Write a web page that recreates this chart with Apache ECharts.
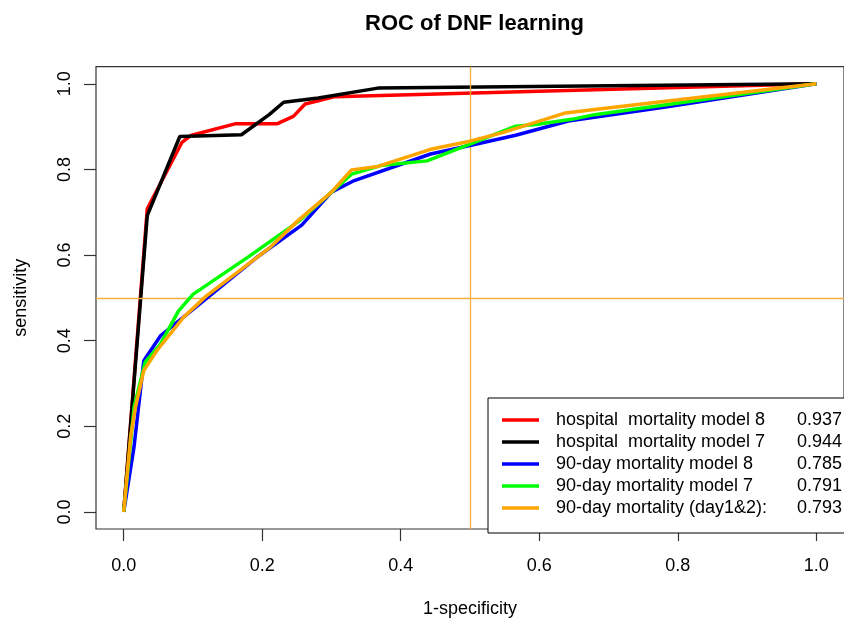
<!DOCTYPE html>
<html>
<head>
<meta charset="utf-8">
<script src="https://cdn.jsdelivr.net/npm/echarts@6/dist/echarts.min.js"></script>
<style>
html,body{margin:0;padding:0;background:#fff;}
#chart{width:844px;height:623px;}
</style>
</head>
<body>
<div id="chart"></div>
<script>
// ---- data ----
const seriesNames = [
  'hospital  mortality model 8',
  'hospital  mortality model 7',
  '90-day mortality model 8',
  '90-day mortality model 7',
  '90-day mortality (day1&2):'
];
const aucValues = ['0.937', '0.944', '0.785', '0.791', '0.793'];
const seriesColors = ['#FF0000', '#000000', '#0000FF', '#00FF00', '#FFA500'];

const hosp8X = [0, 0.034, 0.084, 0.098, 0.162, 0.222, 0.245, 0.262, 0.305, 0.68, 1];
const hosp8Y = [0, 0.708, 0.863, 0.880, 0.907, 0.907, 0.924, 0.953, 0.970, 0.986, 1];

const hosp7X = [0, 0.034, 0.081, 0.170, 0.210, 0.231, 0.281, 0.367, 1];
const hosp7Y = [0, 0.692, 0.877, 0.881, 0.928, 0.957, 0.967, 0.990, 1];

const d90m8X = [0, 0.015, 0.029, 0.053, 0.191, 0.257, 0.300, 0.333, 0.443, 0.500, 0.566, 0.642, 0.780, 1];
const d90m8Y = [0, 0.153, 0.353, 0.411, 0.593, 0.670, 0.747, 0.774, 0.836, 0.856, 0.880, 0.913, 0.945, 1];

const d90m7X = [0, 0.015, 0.031, 0.053, 0.079, 0.100, 0.181, 0.252, 0.300, 0.329, 0.371, 0.438, 0.500, 0.566, 0.595, 0.647, 0.680, 1];
const d90m7Y = [0, 0.245, 0.350, 0.392, 0.469, 0.508, 0.597, 0.678, 0.747, 0.789, 0.809, 0.820, 0.859, 0.901, 0.905, 0.917, 0.928, 1];

const d90dX = [0, 0.010, 0.017, 0.029, 0.048, 0.086, 0.119, 0.210, 0.252, 0.300, 0.329, 0.367, 0.443, 0.500, 0.547, 0.638, 0.680, 1];
const d90dY = [0, 0.176, 0.245, 0.330, 0.377, 0.454, 0.504, 0.616, 0.681, 0.747, 0.799, 0.807, 0.847, 0.866, 0.886, 0.932, 0.940, 1];

const tickValues = [0, 0.2, 0.4, 0.6, 0.8, 1.0];
const refX = 0.5;
const refY = 0.5;

// ---- build chart ----
const FONT = 'Liberation Sans, Arial, Helvetica, sans-serif';
function zip(xs, ys) { return xs.map((x, i) => [x, ys[i]]); }
const curves = [zip(hosp8X, hosp8Y), zip(hosp7X, hosp7Y), zip(d90m8X, d90m8Y), zip(d90m7X, d90m7Y), zip(d90dX, d90dY)];
const aucByName = {};
seriesNames.forEach((n, i) => aucByName[n] = aucValues[i]);

const chart = echarts.init(document.getElementById('chart'), null, {renderer: 'canvas'});

const series = [{
  type: 'line',
  data: [],
  silent: true,
  markLine: {
    silent: true,
    symbol: 'none',
    label: {show: false},
    lineStyle: {color: '#F4B03E', width: 1.3, type: 'solid'},
    data: [{yAxis: refY}, {xAxis: refX}]
  }
}];
seriesNames.forEach((name, i) => {
  series.push({
    name: name,
    type: 'line',
    data: curves[i],
    symbol: 'none',
    smooth: false,
    lineStyle: {color: seriesColors[i], width: 3.5},
    itemStyle: {color: seriesColors[i]},
    z: 3 + i
  });
});

chart.setOption({
  animation: false,
  textStyle: {fontFamily: FONT},
  title: {
    text: 'ROC of DNF learning',
    left: 469.5,
    textAlign: 'center',
    top: 8,
    textStyle: {fontSize: 22, fontWeight: 'bold', color: '#000', fontFamily: FONT}
  },
  grid: {
    left: 96, top: 66.7, width: 757, height: 466.6,
    show: true, borderColor: '#333', borderWidth: 1.2, backgroundColor: 'transparent'
  },
  legend: {
    data: seriesNames,
    orient: 'vertical',
    left: 488, top: 398,
    padding: [11, 30, 14, 14],
    icon: 'rect',
    itemWidth: 37, itemHeight: 3.5, itemGap: 0,
    borderColor: '#000', borderWidth: 1, backgroundColor: '#fff',
    selectedMode: false,
    formatter: name => '{g| }{n|' + name + '}{v|' + aucByName[name] + '}',
    textStyle: {
      fontFamily: FONT, fontSize: 18, color: '#000', lineHeight: 22,
      rich: {
        g: {width: 12, fontSize: 18, lineHeight: 22},
        n: {width: 241, fontSize: 18, lineHeight: 22, fontFamily: FONT, color: '#000'},
        v: {fontSize: 18, lineHeight: 22, fontFamily: FONT, color: '#000'}
      }
    }
  },
  xAxis: {
    type: 'value', min: -0.04, max: 1.04,
    axisLine: {show: false, onZero: false},
    splitLine: {show: false},
    axisTick: {show: true, inside: false, length: 12, customValues: tickValues, lineStyle: {color: '#333', width: 1.2}},
    axisLabel: {customValues: tickValues, formatter: v => v.toFixed(1), fontSize: 18, color: '#000', margin: 28, fontFamily: FONT},
    name: '1-specificity', nameLocation: 'middle', nameGap: 71,
    nameTextStyle: {fontSize: 18, color: '#000', fontFamily: FONT}
  },
  yAxis: {
    type: 'value', min: -0.04, max: 1.04,
    axisLine: {show: false, onZero: false},
    splitLine: {show: false},
    axisTick: {show: true, inside: false, length: 12, customValues: tickValues, lineStyle: {color: '#333', width: 1.2}},
    axisLabel: {customValues: tickValues, formatter: v => v.toFixed(1), fontSize: 18, color: '#000', margin: 22, rotate: 90, fontFamily: FONT},
    name: 'sensitivity', nameLocation: 'middle', nameGap: 66,
    nameTextStyle: {fontSize: 18, color: '#000', fontFamily: FONT}
  },
  series: series
});
</script>
</body>
</html>
